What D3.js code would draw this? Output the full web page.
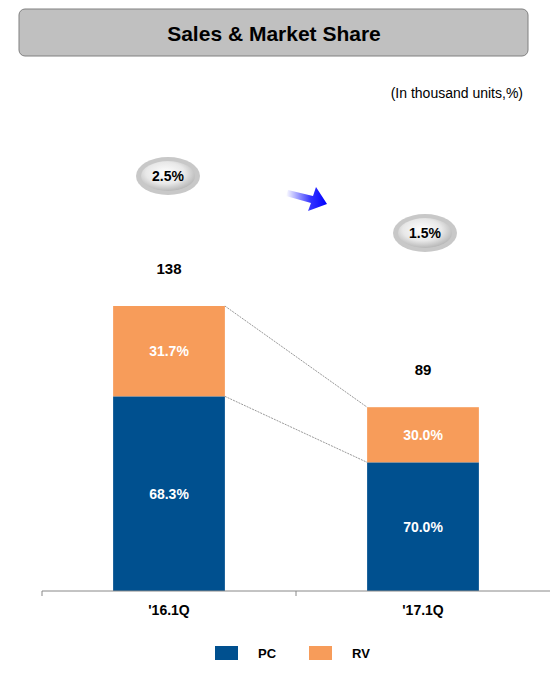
<!DOCTYPE html>
<html><head><meta charset="utf-8">
<script src="https://cdn.jsdelivr.net/npm/d3@7"></script>
<style>body{margin:0;background:#fff}text{font-family:Arial,"Liberation Sans",sans-serif}</style>
</head><body><svg id="c" width="550" height="689"></svg>
<script>
const categories = ["'16.1Q", "'17.1Q"];
const totals = [138, 89];
const pcShare = [68.3, 70.0];
const rvShare = [31.7, 30.0];
const marketShare = ["2.5%", "1.5%"];
const seriesNames = ["PC", "RV"];
const colors = {PC: "#00508f", RV: "#f79c5a"};

const svg = d3.select("#c");
const defs = svg.append("defs");
const eg = defs.append("radialGradient").attr("id","eg").attr("cx","45%").attr("cy","40%").attr("r","60%");
eg.append("stop").attr("offset","0%").attr("stop-color","#ffffff");
eg.append("stop").attr("offset","60%").attr("stop-color","#e8e8e8");
eg.append("stop").attr("offset","100%").attr("stop-color","#b8b8b8");
const ag = defs.append("linearGradient").attr("id","ag");
ag.append("stop").attr("offset","0%").attr("stop-color","#0000ff").attr("stop-opacity",0);
ag.append("stop").attr("offset","60%").attr("stop-color","#0000ff").attr("stop-opacity",0.8);
ag.append("stop").attr("offset","100%").attr("stop-color","#0000ff");

// title
svg.append("rect").attr("x",19).attr("y",9).attr("width",509).attr("height",47).attr("rx",6)
  .attr("fill","#c0c0c0").attr("stroke","#808080");
svg.append("text").attr("x",274).attr("y",41).attr("text-anchor","middle").attr("font-size",21)
  .attr("font-weight","bold").text("Sales & Market Share");
svg.append("text").attr("x",523).attr("y",98).attr("text-anchor","end").attr("font-size",14).text("(In thousand units,%)");

const x = d3.scaleBand().domain(categories).range([42,550]).paddingInner(0.56).paddingOuter(0.28);
const y = d3.scaleLinear().domain([0,138]).range([591,306]);

const data = categories.map((c,i)=>({c, total: totals[i], PC: totals[i]*pcShare[i]/100, RV: totals[i]*rvShare[i]/100, pcs: pcShare[i], rvs: rvShare[i]}));
const stacked = d3.stack().keys(seriesNames)(data);

stacked.forEach(s=>{
  svg.append("g").selectAll("rect").data(s).join("rect")
    .attr("x",d=>x(d.data.c)).attr("width",x.bandwidth())
    .attr("y",d=>y(d[1])).attr("height",d=>y(d[0])-y(d[1]))
    .attr("fill",colors[s.key]);
  svg.append("g").selectAll("text").data(s).join("text")
    .attr("x",d=>x(d.data.c)+x.bandwidth()/2).attr("y",d=>(y(d[0])+y(d[1]))/2+5)
    .attr("text-anchor","middle").attr("font-size",14).attr("font-weight","bold")
    .attr("fill", s.key==="PC" ? "#fff" : "#fff")
    .text(d=>(s.key==="PC"?d.data.pcs:d.data.rvs).toFixed(1)+"%");
});

// connectors
const d0 = data[0], d1 = data[1];
[[d0.total,d1.total],[d0.PC,d1.PC]].forEach(([a,b])=>{
  svg.append("line").attr("x1",x(d0.c)+x.bandwidth()).attr("y1",y(a))
    .attr("x2",x(d1.c)).attr("y2",y(b)).attr("stroke","#999").attr("stroke-dasharray","2,1");
});

// totals
svg.selectAll(".tot").data(data).join("text")
  .attr("x",d=>x(d.c)+x.bandwidth()/2).attr("y",d=>y(d.total)-32)
  .attr("text-anchor","middle").attr("font-size",15).attr("font-weight","bold").text(d=>d.total);

// market share ellipses
const ell = [[168,176],[425,233]];
marketShare.forEach((m,i)=>{
  svg.append("ellipse").attr("cx",ell[i][0]).attr("cy",ell[i][1]).attr("rx",32).attr("ry",19)
    .attr("fill","#c8c8c8");
  svg.append("ellipse").attr("cx",ell[i][0]).attr("cy",ell[i][1]).attr("rx",27).attr("ry",15)
    .attr("fill","url(#eg)");
  svg.append("text").attr("x",ell[i][0]).attr("y",ell[i][1]+5).attr("text-anchor","middle")
    .attr("font-size",14).attr("font-weight","bold").text(m);
});
// arrow
svg.append("path").attr("d","M288,190 L313,196 L316,187 L327,204 L308,211 L311,203 L286,196 Z")
  .attr("fill","url(#ag)");

// axis
const ax = svg.append("g").attr("transform","translate(0,591)");
ax.append("line").attr("x1",42).attr("x2",550).attr("stroke","#888");
[42, 296].forEach(t=>ax.append("line").attr("x1",t).attr("x2",t).attr("y1",0).attr("y2",5).attr("stroke","#888"));
categories.forEach(c=>ax.append("text").attr("x",x(c)+x.bandwidth()/2).attr("y",24)
  .attr("text-anchor","middle").attr("font-size",14).attr("font-weight","bold").text(c));

// legend
const lx = [215,309];
seriesNames.forEach((s,i)=>{
  svg.append("rect").attr("x",lx[i]).attr("y",646).attr("width",23).attr("height",14).attr("fill",colors[s]);
  svg.append("text").attr("x",lx[i]+43).attr("y",658).attr("font-size",13).attr("font-weight","bold").text(s);
});
</script></body></html>
